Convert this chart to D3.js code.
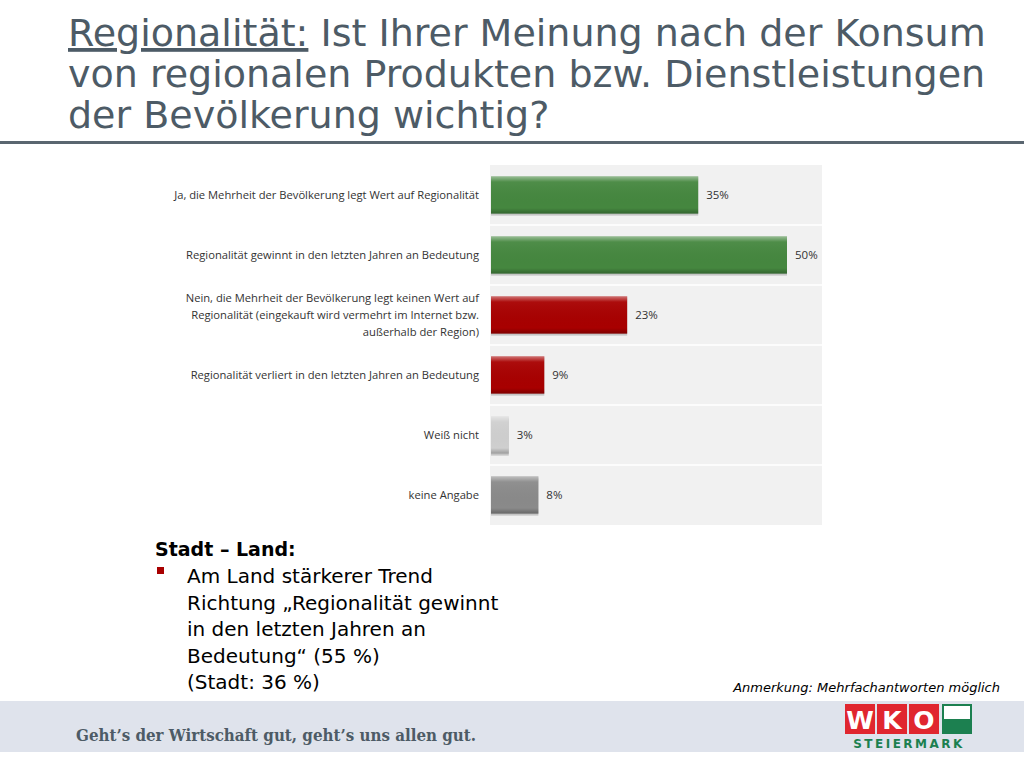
<!DOCTYPE html>
<html><head><meta charset="utf-8">
<script src="https://cdn.jsdelivr.net/npm/d3@7"></script>
<style>
body{margin:0;background:#fff;}
svg{display:block;}
</style></head>
<body>
<script>
var categories = [
    ["Ja, die Mehrheit der Bevölkerung legt Wert auf Regionalität"],
    ["Regionalität gewinnt in den letzten Jahren an Bedeutung"],
    ["Nein, die Mehrheit der Bevölkerung legt keinen Wert auf", "Regionalität (eingekauft wird vermehrt im Internet bzw.", "außerhalb der Region)"],
    ["Regionalität verliert in den letzten Jahren an Bedeutung"],
    ["Weiß nicht"],
    ["keine Angabe"]
];
var values = [35, 50, 23, 9, 3, 8];
var barColors = ["#45873f", "#45873f", "#a80000", "#a80000", "#cfcfcf", "#8a8a8a"];

var svg = d3.select("body").append("svg").attr("width", 1024).attr("height", 768);

// title
var title = svg.append("text").attr("x", 68).attr("font-family", "DejaVu Sans, sans-serif")
    .attr("font-size", 38).attr("fill", "#4d5b66");
var t1 = title.append("tspan").attr("x", 68).attr("y", 46);
t1.append("tspan").attr("text-decoration", "underline").text("Regionalität:");
t1.append("tspan").text(" Ist Ihrer Meinung nach der Konsum");
title.append("tspan").attr("x", 68).attr("y", 87).text("von regionalen Produkten bzw. Dienstleistungen");
title.append("tspan").attr("x", 68).attr("y", 128).text("der Bevölkerung wichtig?");
svg.append("rect").attr("x", 0).attr("y", 141).attr("width", 1024).attr("height", 3).attr("fill", "#5a6670");

// chart
var plotLeft = 490, plotTop = 165, plotW = 332, plotH = 360;
var x = d3.scaleLinear().domain([0, 50]).range([plotLeft + 1, plotLeft + 297]);
var y = d3.scaleBand().domain(d3.range(values.length)).range([plotTop, plotTop + plotH]).paddingInner(0.38).paddingOuter(0.19);
var yRow = d3.scaleBand().domain(d3.range(values.length)).range([plotTop, plotTop + plotH]);

svg.append("rect").attr("x", plotLeft).attr("y", plotTop).attr("width", plotW).attr("height", plotH).attr("fill", "#f1f1f1");
svg.selectAll(".grid").data(d3.range(1, values.length)).enter().append("line")
    .attr("x1", plotLeft).attr("x2", plotLeft + plotW)
    .attr("y1", function (d) { return yRow(d); }).attr("y2", function (d) { return yRow(d); })
    .attr("stroke", "#ffffff").attr("stroke-width", 1.5);

var defs = svg.append("defs");
var grad = defs.append("linearGradient").attr("id", "shine").attr("x1", 0).attr("x2", 0).attr("y1", 0).attr("y2", 1);
grad.append("stop").attr("offset", "0").attr("stop-color", "#fff").attr("stop-opacity", 0.45);
grad.append("stop").attr("offset", "0.15").attr("stop-color", "#fff").attr("stop-opacity", 0.05);
grad.append("stop").attr("offset", "0.85").attr("stop-color", "#000").attr("stop-opacity", 0);
grad.append("stop").attr("offset", "1").attr("stop-color", "#000").attr("stop-opacity", 0.25);

var bars = svg.selectAll(".bar").data(values).enter().append("g");
bars.append("rect")
    .attr("x", x(0)).attr("y", function (d, i) { return y(i) + 2; })
    .attr("width", function (d) { return x(d) - x(0); }).attr("height", y.bandwidth())
    .attr("fill", "#999").attr("opacity", 0.5);
bars.append("rect")
    .attr("x", x(0)).attr("y", function (d, i) { return y(i); })
    .attr("width", function (d) { return x(d) - x(0); }).attr("height", y.bandwidth())
    .attr("fill", function (d, i) { return barColors[i]; });
bars.append("rect")
    .attr("x", x(0)).attr("y", function (d, i) { return y(i); })
    .attr("width", function (d) { return x(d) - x(0); }).attr("height", y.bandwidth())
    .attr("fill", "url(#shine)");
bars.append("text")
    .attr("x", function (d) { return x(d) + 8; })
    .attr("y", function (d, i) { return y(i) + y.bandwidth() / 2 + 4; })
    .attr("font-family", "Open Sans, sans-serif").attr("font-size", 11.5).attr("fill", "#333")
    .text(function (d) { return d + "%"; });

svg.selectAll(".cat").data(categories).enter().append("text")
    .attr("text-anchor", "end").attr("font-family", "Open Sans, sans-serif").attr("font-size", 11.2).attr("fill", "#333")
    .each(function (lines, i) {
        var cy = y(i) + y.bandwidth() / 2 + 4 - (lines.length - 1) * 8.5;
        var t = d3.select(this);
        lines.forEach(function (l, j) {
            t.append("tspan").attr("x", 479).attr("y", cy + j * 17).text(l);
        });
    });

// note text
var note = svg.append("g").attr("font-family", "Verdana, DejaVu Sans, sans-serif").attr("fill", "#000");
note.append("text").attr("x", 155).attr("y", 556).attr("font-size", 19).attr("font-weight", "bold").text("Stadt – Land:");
note.append("rect").attr("x", 157).attr("y", 567).attr("width", 7).attr("height", 7).attr("fill", "#a80000");
var bl = ["Am Land stärkerer Trend", "Richtung „Regionalität gewinnt", "in den letzten Jahren an", "Bedeutung“ (55 %)", "(Stadt: 36 %)"];
note.selectAll(".bl").data(bl).enter().append("text")
    .attr("x", 187).attr("y", function (d, i) { return 583 + i * 26.5; })
    .attr("font-size", 20).text(function (d) { return d; });

svg.append("text").attr("x", 1000).attr("y", 692).attr("text-anchor", "end")
    .attr("font-family", "Verdana, DejaVu Sans, sans-serif").attr("font-style", "italic").attr("font-size", 13)
    .text("Anmerkung: Mehrfachantworten möglich");

// footer
svg.append("rect").attr("x", 0).attr("y", 701).attr("width", 1024).attr("height", 51).attr("fill", "#dfe3ec");
svg.append("text").attr("x", 76).attr("y", 741).attr("font-family", "DejaVu Serif Condensed, DejaVu Serif, serif")
    .attr("font-size", 16.8).attr("font-weight", "bold").attr("fill", "#4d5b66").text("Geht’s der Wirtschaft gut, geht’s uns allen gut.");
var logo = svg.append("g");
["W", "K", "O"].forEach(function (c, i) {
    logo.append("rect").attr("x", 845 + i * 32).attr("y", 704).attr("width", 30).attr("height", 30).attr("fill", "#e0262f");
    logo.append("text").attr("x", 860 + i * 32).attr("y", 729).attr("text-anchor", "middle")
        .attr("font-family", "DejaVu Sans, sans-serif").attr("font-weight", "bold").attr("font-size", 25).attr("fill", "#fff").text(c);
});
logo.append("rect").attr("x", 943).attr("y", 705).attr("width", 28).attr("height", 28).attr("fill", "#fff").attr("stroke", "#1c8050").attr("stroke-width", 2);
logo.append("rect").attr("x", 943).attr("y", 719).attr("width", 28).attr("height", 14).attr("fill", "#1c8050");
logo.append("text").attr("x", 909).attr("y", 748).attr("text-anchor", "middle").attr("font-family", "DejaVu Sans, sans-serif")
    .attr("font-weight", "bold").attr("font-size", 12).attr("letter-spacing", 2.5).attr("fill", "#1c8050").text("STEIERMARK");
</script>
</body></html>
